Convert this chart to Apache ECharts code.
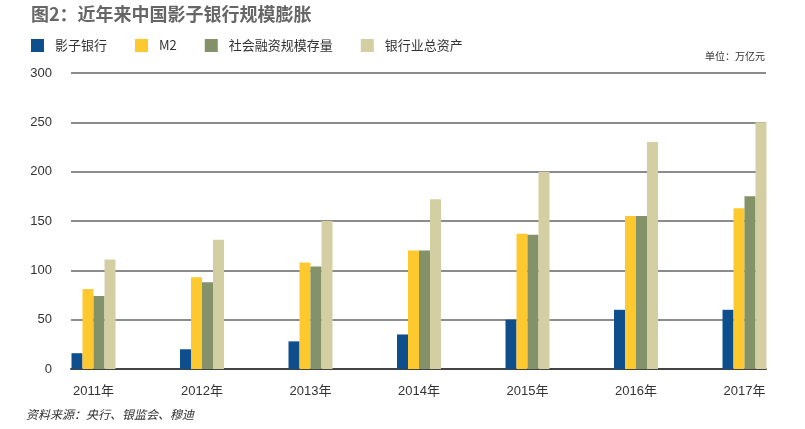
<!DOCTYPE html>
<html>
<head>
<meta charset="utf-8">
<script src="https://cdn.jsdelivr.net/npm/echarts@6/dist/echarts.min.js"></script>
<style>html,body{margin:0;padding:0;background:#fff;}#c{width:805px;height:429px;}</style>
</head>
<body>
<div id="c"></div>
<script>
var categories = ['2011年','2012年','2013年','2014年','2015年','2016年','2017年'];
var seriesNames = ['影子银行','M2','社会融资规模存量','银行业总资产'];
var shadowBanking = [16, 20, 28, 35, 50, 60, 60];
var m2 = [81, 93, 108, 120, 137, 155, 163];
var tsf = [74, 88, 104, 120, 136, 155, 175];
var bankAssets = [111, 131, 150, 172, 200, 230, 250];
var yTicks = [0, 50, 100, 150, 200, 250, 300];
var colors = ['#0E4E8D', '#FDC92F', '#84926A', '#D4CFA3'];
var values = [shadowBanking, m2, tsf, bankAssets];

var chart = echarts.init(document.getElementById('c'));
var font = '"Liberation Sans", Arial, "Noto Sans CJK SC", sans-serif';
var series = seriesNames.map(function (n, i) {
  return {
    name: n, type: 'bar', xAxisIndex: 1, yAxisIndex: 1,
    data: values[i], barWidth: 11, barGap: '0%',
    itemStyle: { color: colors[i] }, z: 3
  };
});
chart.setOption({
  animation: false,
  textStyle: { fontFamily: font },
  title: {
    text: '图2：近年来中国影子银行规模膨胀',
    left: 26, top: 0,
    textStyle: { fontSize: 18, fontWeight: 'bold', color: '#666', fontFamily: '"Noto Sans CJK SC", sans-serif' }
  },
  legend: {
    data: seriesNames, left: 26, top: 34,
    itemWidth: 13, itemHeight: 13, itemGap: 28,
    icon: 'rect',
    textStyle: { fontSize: 13, color: '#333', padding: [0, 0, 0, 6], fontFamily: '"Noto Sans CJK SC", sans-serif' }
  },
  graphic: [
    { type: 'text', right: 40, top: 51, style: { text: '单位：万亿元', fontSize: 10, fill: '#333', fontFamily: '"Noto Sans CJK SC", sans-serif' } },
    { type: 'text', left: 26, top: 408, style: { text: '资料来源：央行、银监会、穆迪', fontSize: 12, fill: '#333', fontStyle: 'italic', fontFamily: '"Noto Sans CJK SC", sans-serif' } }
  ],
  grid: [
    { left: 71, right: 39, top: 73, bottom: 60 },
    { left: 39.25, right: 6.25, top: 73, bottom: 60 }
  ],
  xAxis: [
    { type: 'value', gridIndex: 0, min: 0, max: 1, axisLabel: { show: false }, axisTick: { show: false }, splitLine: { show: false },
      axisLine: { show: true, lineStyle: { color: '#444', width: 2 } } },
    { type: 'category', gridIndex: 1, data: categories, axisLine: { show: false }, axisTick: { show: false },
      axisLabel: { margin: 16, fontSize: 13, color: '#333' } }
  ],
  yAxis: [
    { type: 'value', gridIndex: 0, min: yTicks[0], max: yTicks[yTicks.length - 1], interval: 50,
      axisLine: { show: false }, axisTick: { show: false },
      axisLabel: { margin: 19, fontSize: 13, color: '#333' },
      splitLine: { lineStyle: { color: '#666', width: 1.5 } } },
    { type: 'value', gridIndex: 1, min: 0, max: 300, show: false, splitLine: { show: false } }
  ],
  series: series
});
</script>
</body>
</html>
